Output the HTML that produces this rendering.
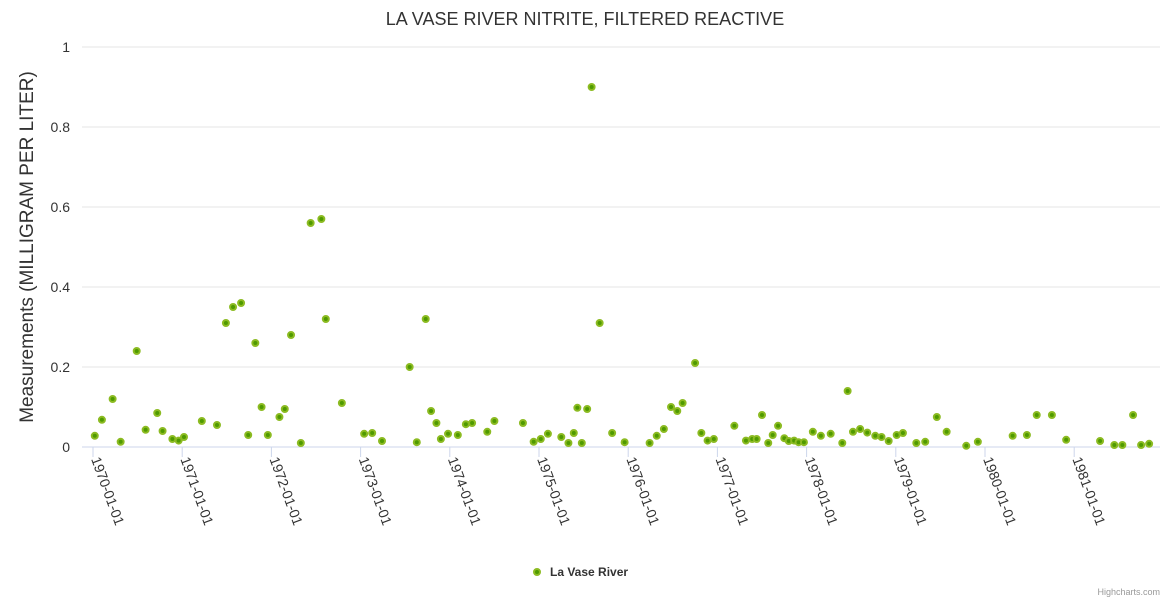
<!DOCTYPE html>
<html><head><meta charset="utf-8"><style>
body{margin:0;background:#fff;font-family:"Liberation Sans",sans-serif}
svg text{font-family:"Liberation Sans",sans-serif}
</style></head><body>
<svg id="chart" width="1170" height="600">
<text x="585" y="25" text-anchor="middle" font-size="18" fill="#333">LA VASE RIVER NITRITE, FILTERED REACTIVE</text>
<text transform="translate(33,247) rotate(-90)" text-anchor="middle" font-size="19" fill="#333">Measurements (MILLIGRAM PER LITER)</text>
<g id="grid"></g><g id="xticks"></g><g id="points"></g>
<g>
<circle cx="537" cy="572" r="3" fill="#4f9a00" stroke="#8cbb22" stroke-width="2"/>
<text x="550" y="576" font-size="12" font-weight="bold" fill="#333">La Vase River</text>
</g>
<text x="1160" y="595" text-anchor="end" font-size="9" fill="#999">Highcharts.com</text>
</svg>
<script>
const yTicks=[0,0.2,0.4,0.6,0.8,1];
const yTickLabels=["0","0.2","0.4","0.6","0.8","1"];
const xTickYears=[1970,1971,1972,1973,1974,1975,1976,1977,1978,1979,1980,1981];
const xTickLabels=["1970-01-01","1971-01-01","1972-01-01","1973-01-01","1974-01-01","1975-01-01","1976-01-01","1977-01-01","1978-01-01","1979-01-01","1980-01-01","1981-01-01"];
const dates=[1970.02,1970.10,1970.22,1970.31,1970.49,1970.59,1970.72,1970.78,1970.89,1970.96,1971.02,1971.22,1971.39,1971.49,1971.57,1971.66,1971.74,1971.82,1971.89,1971.96,1972.09,1972.15,1972.22,1972.33,1972.44,1972.56,1972.61,1972.79,1973.04,1973.13,1973.24,1973.55,1973.63,1973.73,1973.79,1973.85,1973.90,1973.98,1974.09,1974.18,1974.25,1974.42,1974.50,1974.82,1974.94,1975.02,1975.10,1975.25,1975.33,1975.39,1975.43,1975.48,1975.54,1975.59,1975.68,1975.82,1975.96,1976.24,1976.32,1976.40,1976.48,1976.55,1976.61,1976.75,1976.82,1976.89,1976.96,1977.19,1977.32,1977.39,1977.44,1977.50,1977.57,1977.62,1977.68,1977.75,1977.80,1977.86,1977.91,1977.97,1978.07,1978.16,1978.27,1978.40,1978.46,1978.52,1978.60,1978.68,1978.77,1978.84,1978.92,1979.01,1979.08,1979.23,1979.33,1979.46,1979.57,1979.79,1979.92,1980.31,1980.47,1980.58,1980.75,1980.91,1981.29,1981.45,1981.54,1981.66,1981.75,1981.84];
const values=[0.028,0.068,0.12,0.013,0.24,0.043,0.085,0.04,0.02,0.016,0.025,0.065,0.055,0.31,0.35,0.36,0.03,0.26,0.1,0.03,0.075,0.095,0.28,0.01,0.56,0.57,0.32,0.11,0.033,0.035,0.015,0.2,0.012,0.32,0.09,0.06,0.02,0.033,0.03,0.057,0.06,0.038,0.065,0.06,0.013,0.02,0.033,0.025,0.01,0.035,0.098,0.01,0.095,0.9,0.31,0.035,0.012,0.01,0.028,0.045,0.1,0.09,0.11,0.21,0.035,0.016,0.02,0.053,0.016,0.02,0.02,0.08,0.01,0.03,0.053,0.022,0.015,0.016,0.012,0.012,0.038,0.028,0.033,0.01,0.14,0.038,0.045,0.036,0.028,0.025,0.015,0.03,0.035,0.01,0.013,0.075,0.038,0.003,0.013,0.028,0.03,0.08,0.08,0.018,0.015,0.005,0.005,0.08,0.005,0.008];
const NS="http://www.w3.org/2000/svg";
const xS=y=>93+(y-1970)*89.2;
const yS=v=>447-v*400;
const grid=document.getElementById('grid');
yTicks.forEach((t,i)=>{
 const l=document.createElementNS(NS,'line');
 l.setAttribute('x1',82);l.setAttribute('x2',1160);l.setAttribute('y1',yS(t));l.setAttribute('y2',yS(t));
 l.setAttribute('stroke',t===0?'#ccd6eb':'#e6e6e6');
 
 
 grid.appendChild(l);
 const tx=document.createElementNS(NS,'text');
 tx.setAttribute('x',70);tx.setAttribute('y',yS(t)+5);tx.setAttribute('text-anchor','end');
 tx.setAttribute('font-size','14');tx.setAttribute('fill','#333');tx.textContent=yTickLabels[i];
 
 
 grid.appendChild(tx);
});
const xt=document.getElementById('xticks');
xTickYears.forEach((y,i)=>{
 const x=xS(y);
 const l=document.createElementNS(NS,'line');
 l.setAttribute('x1',x);l.setAttribute('x2',x);l.setAttribute('y1',447);l.setAttribute('y2',457);l.setAttribute('stroke','#ccd6eb');
 
 
 xt.appendChild(l);
 const tx=document.createElementNS(NS,'text');
 tx.setAttribute('transform','translate('+(x-2)+',459) rotate(70)');
 tx.setAttribute('font-size','14');tx.setAttribute('fill','#333');tx.textContent=xTickLabels[i];
 
 
 xt.appendChild(tx);
});
const pts=document.getElementById('points');
dates.forEach((d,i)=>{
 const c=document.createElementNS(NS,'circle');
 c.setAttribute('cx',xS(d));c.setAttribute('cy',yS(values[i]));c.setAttribute('r',3);
 c.setAttribute('fill','#4f9a00');c.setAttribute('stroke','#8cbb22');c.setAttribute('stroke-width','2');
 
 
 pts.appendChild(c);
});
</script>
</body></html>
